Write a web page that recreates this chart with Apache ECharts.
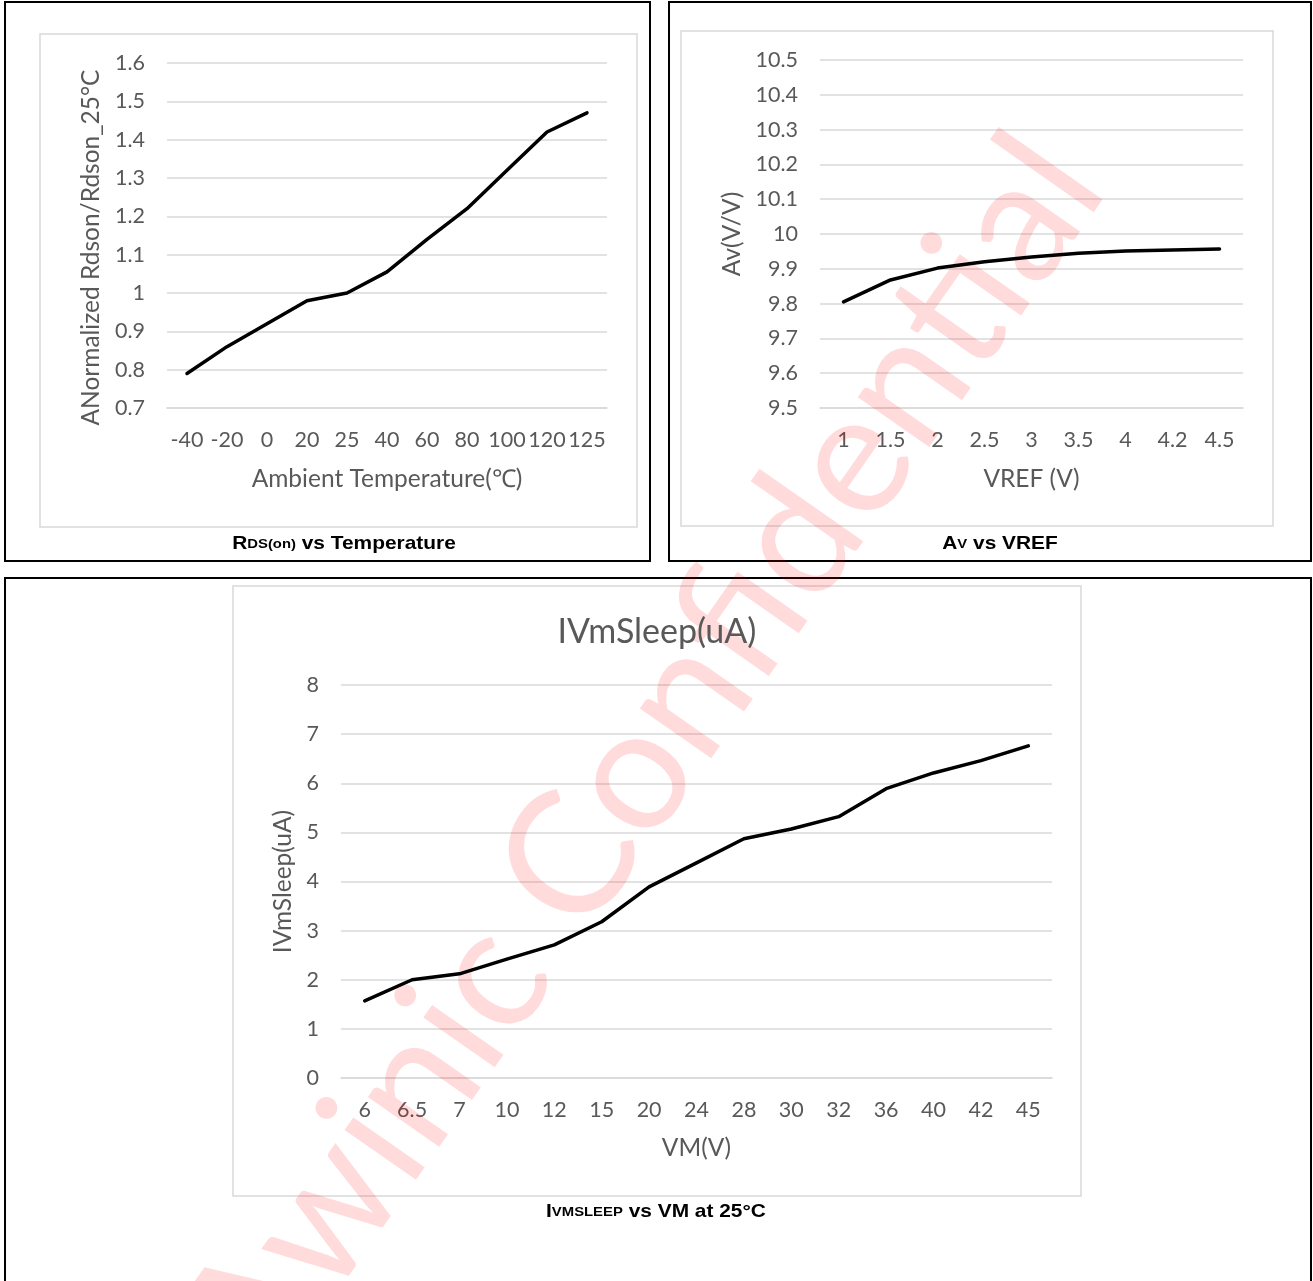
<!DOCTYPE html>
<html>
<head>
<meta charset="utf-8">
<script src="https://cdn.jsdelivr.net/npm/echarts@6/dist/echarts.min.js"></script>
<style>
html,body{margin:0;padding:0;background:#fff;}
#c{width:1313px;height:1281px;}
</style>
</head>
<body>
<div id="c"></div>
<script>
// ---- data ----
const tempCats = ['-40','-20','0','20','25','40','60','80','100','120','125'];
const rdsonVals = [0.79,0.86,0.92,0.98,1.00,1.055,1.14,1.22,1.32,1.42,1.47];

const vrefCats = ['1','1.5','2','2.5','3','3.5','4','4.2','4.5'];
const avVals = [9.805,9.868,9.902,9.92,9.934,9.945,9.951,9.954,9.957];

const vmCats = ['6','6.5','7','10','12','15','20','24','28','30','32','36','40','42','45'];
const isleepVals = [1.57,2.0,2.12,2.42,2.71,3.18,3.89,4.38,4.87,5.07,5.32,5.89,6.21,6.46,6.76];

const FONT = 'Lato';
const TXT = '#595959';
const GRID = '#d9d9d9';

function xAxis(idx, cats, name, gap) {
  return {
    type: 'category', gridIndex: idx, data: cats, boundaryGap: true,
    axisLine: {show: true, lineStyle: {color: GRID, width: 1.5}},
    axisTick: {show: false},
    axisLabel: {color: TXT, fontFamily: FONT, fontSize: 21.5, margin: 21, interval: 0},
    name: name, nameLocation: 'middle', nameGap: gap,
    nameTextStyle: {color: TXT, fontFamily: FONT, fontSize: 24.5}
  };
}
function yAxis(idx, min, max, interval, name, gap, pad) {
  return {
    type: 'value', gridIndex: idx, min: min, max: max, interval: interval,
    axisLine: {show: false}, axisTick: {show: false},
    splitLine: {show: true, lineStyle: {color: GRID, width: 1.5}},
    axisLabel: {color: TXT, fontFamily: FONT, fontSize: 21.5, margin: 22},
    name: name, nameLocation: 'middle', nameGap: gap, nameRotate: 90,
    nameTextStyle: {color: TXT, fontFamily: FONT, fontSize: 24.5, padding: pad || 0}
  };
}
function lineSeries(idx, vals) {
  return {
    type: 'line', xAxisIndex: idx, yAxisIndex: idx, data: vals,
    symbol: 'none', smooth: false,
    lineStyle: {color: '#000', width: 3.5, cap: 'round', join: 'round'}
  };
}

const CAPF = 'Liberation Sans, Arial, sans-serif';
const capRich = {
  b: {fontFamily: CAPF, fontWeight: 'bold', fontSize: 19, fill: '#000'},
  s: {fontFamily: CAPF, fontWeight: 'bold', fontSize: 13.5, fill: '#000'}
};
function caption(x, y, text) {
  return {type: 'text', z: 3, x: x, y: y, scaleX: 1.1,
    style: {text: text, rich: capRich, align: 'center', verticalAlign: 'middle'}};
}

const chart = echarts.init(document.getElementById('c'), null, {renderer: 'canvas'});
chart.setOption({
  animation: false,
  backgroundColor: '#fff',
  grid: [
    {left: 167, top: 63, width: 440, height: 345},
    {left: 820, top: 60, width: 423, height: 348},
    {left: 341, top: 685, width: 711, height: 393}
  ],
  xAxis: [
    xAxis(0, tempCats, 'Ambient Temperature(℃)', 59),
    xAxis(1, vrefCats, 'VREF (V)', 59),
    xAxis(2, vmCats, 'VM(V)', 58)
  ],
  yAxis: [
    yAxis(0, 0.7, 1.6, 0.1, 'ANormalized Rdson/Rdson_25°C', 63, [0, 24, 0, 0]),
    yAxis(1, 9.5, 10.5, 0.1, 'Av(V/V)', 75),
    yAxis(2, 0, 8, 1, 'IVmSleep(uA)', 44)
  ],
  series: [
    lineSeries(0, rdsonVals),
    lineSeries(1, avVals),
    lineSeries(2, isleepVals)
  ],
  graphic: [
    // outer boxes
    {type: 'rect', z: 0, shape: {x: 5, y: 2, width: 645, height: 559}, style: {fill: 'none', stroke: '#000', lineWidth: 2}},
    {type: 'rect', z: 0, shape: {x: 669, y: 2, width: 642, height: 559}, style: {fill: 'none', stroke: '#000', lineWidth: 2}},
    {type: 'rect', z: 0, shape: {x: 5, y: 578, width: 1306, height: 720}, style: {fill: 'none', stroke: '#000', lineWidth: 2}},
    // inner chart areas
    {type: 'rect', z: 0, shape: {x: 40, y: 34, width: 597, height: 493}, style: {fill: 'none', stroke: GRID, lineWidth: 1.5}},
    {type: 'rect', z: 0, shape: {x: 681, y: 31, width: 592, height: 495}, style: {fill: 'none', stroke: GRID, lineWidth: 1.5}},
    {type: 'rect', z: 0, shape: {x: 233, y: 586, width: 848, height: 610}, style: {fill: 'none', stroke: GRID, lineWidth: 1.5}},
    // chart 3 title
    {type: 'text', z: 3, x: 657, y: 632, style: {text: 'IVmSleep(uA)', fontFamily: FONT, fontSize: 34, fill: TXT, align: 'center', verticalAlign: 'middle'}},
    // captions
    caption(344, 544, '{b|R}{s|DS(on)}{b| vs Temperature}'),
    caption(1000, 544, '{b|A}{s|V}{b| vs VREF}'),
    caption(656, 1212, '{b|I}{s|VMSLEEP}{b| vs VM at 25°C}'),
    // watermark
    {type: 'text', z: 1, x: 643, y: 759, rotation: 55 * Math.PI / 180,
     style: {text: 'Awinic Confidential', fontFamily: FONT, fontSize: 172, fill: 'rgba(255,0,0,0.14)', align: 'center', verticalAlign: 'middle'}}
  ]
});
</script>
</body>
</html>
